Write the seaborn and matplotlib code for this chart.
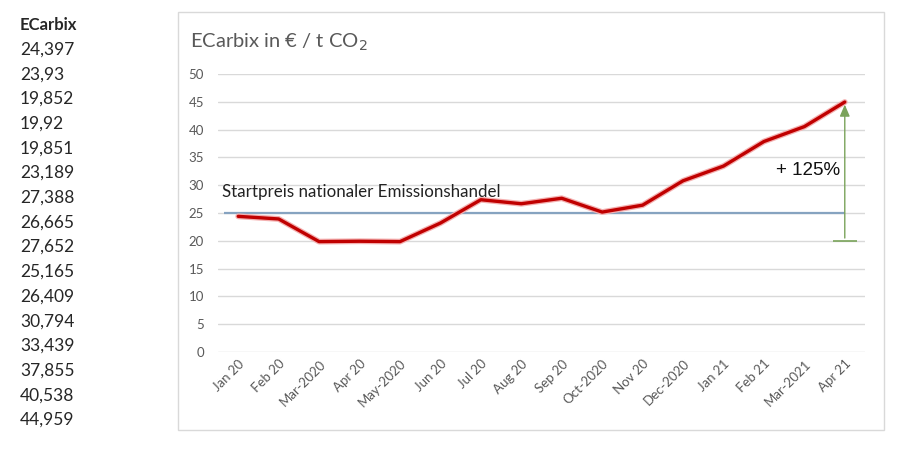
import numpy as np
import pandas as pd
import matplotlib
matplotlib.use("Agg")
import matplotlib.pyplot as plt
import seaborn as sns
from matplotlib.patches import Rectangle

# data
months = ["Jan 20", "Feb 20", "Mar-2020", "Apr 20", "May-2020", "Jun 20", "Jul 20", "Aug 20",
          "Sep 20", "Oct-2020", "Nov 20", "Dec-2020", "Jan 21", "Feb 21", "Mar-2021", "Apr 21"]
ecarbix = [24.397, 23.93, 19.852, 19.92, 19.851, 23.189, 27.388, 26.665,
           27.652, 25.165, 26.409, 30.794, 33.439, 37.855, 40.538, 44.959]
ecarbix_text = ["24,397", "23,93", "19,852", "19,92", "19,851", "23,189", "27,388", "26,665",
                "27,652", "25,165", "26,409", "30,794", "33,439", "37,855", "40,538", "44,959"]
start_price = 25
arrow_from = 20
arrow_to = 45
yticks = list(range(0, 51, 5))

df = pd.DataFrame({"month": months, "value": ecarbix})

sns.set_style("white")
plt.rcParams['font.family'] = ['Lato', 'DejaVu Sans']

fig = plt.figure(figsize=(9, 4.5), dpi=100)

# chart frame
fig.patches.append(Rectangle((178/900, 1-430/450), 706/900, 418/450, transform=fig.transFigure,
                             facecolor="white", edgecolor="#d9d9d9", linewidth=1, zorder=-5))

ax = fig.add_axes([218/900, 1-352/450, 647/900, 278/450])
ax.set_zorder(2)
ax.set_facecolor("none")
x = np.arange(len(months))
sns.lineplot(x=x, y=df["value"], ax=ax, color="#f4b0b0", linewidth=4.2, zorder=3)
sns.lineplot(x=x, y=df["value"], ax=ax, color="#c00000", linewidth=2.4, zorder=4)

ax.hlines(start_price, -0.35, len(months)-1, color="#86a3c0", linewidth=1.6, zorder=2)
ax.text(-0.4, 27.8, "Startpreis nationaler Emissionshandel", fontsize=12.2, color="#222222")

ax.annotate("", xy=(len(months)-1, arrow_to), xytext=(len(months)-1, arrow_from),
            arrowprops=dict(arrowstyle="-|>,head_width=0.3,head_length=0.7", color="#7aa35a", lw=1), zorder=5)
ax.hlines(arrow_from, len(months)-1.3, len(months)-0.7, color="#7aa35a", linewidth=1.2)
ax.text(len(months)-1.12, 32.6, "+ 125%", fontsize=13.5, fontfamily=["Liberation Sans", "DejaVu Sans"],
        ha="right", va="center", color="#111111")

ax.set_xlim(-0.5, len(months)-0.5)
ax.set_ylim(0, 50)
ax.set_yticks(yticks)
ax.set_xticks(x)
ax.set_xticklabels(months, rotation=45, ha="right", rotation_mode="anchor", fontsize=9.5, color="#595959")
ax.tick_params(axis="y", labelsize=9.5, labelcolor="#595959", length=0, pad=10)
ax.tick_params(axis="x", length=0, pad=4)
ax.yaxis.grid(True, color="#d9d9d9", linewidth=1)
ax.set_axisbelow(True)
for s in ax.spines.values():
    s.set_visible(False)
ax.set_xlabel("")
ax.set_ylabel("")

fig.text(190/900, 1-42/450, "ECarbix in € / t CO$_2$", fontsize=14.5, color="#595959", va="center")

# left value column
fig.text(20/900, 1-25/450, "ECarbix", fontsize=12, fontweight="bold", va="center")
for i, t in enumerate(ecarbix_text):
    fig.text(20/900, 1-(49.5+i*24.7)/450, t, fontsize=12.5, va="center")

fig.savefig("out.png", dpi=100)
